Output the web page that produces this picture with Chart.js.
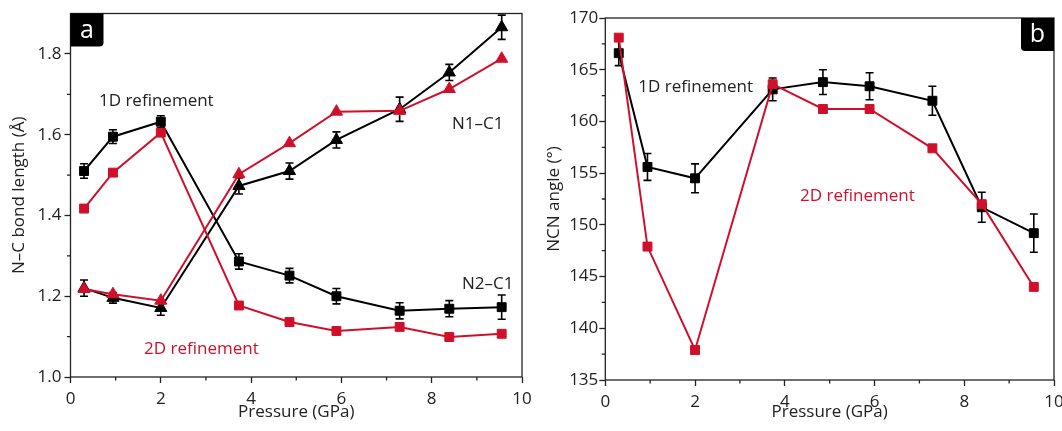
<!DOCTYPE html>
<html>
<head>
<meta charset="utf-8">
<script src="https://cdn.jsdelivr.net/npm/chart.js@4.4.1/dist/chart.umd.min.js"></script>
<style>
  html, body { margin: 0; padding: 0; background: #fff; overflow: hidden; }
  body { width: 1062px; height: 431px; position: relative; }
  .panel { position: absolute; top: 0; height: 431px; }
  #panelA { left: 0; width: 540px; }
  #panelB { left: 530px; width: 545px; }
</style>
</head>
<body>
<div class="panel" id="panelA"><canvas id="chartA"></canvas></div>
<div class="panel" id="panelB"><canvas id="chartB"></canvas></div>
<script>
// pressure points (GPa), shared by both panels
const pressure = [0.3, 0.94, 2.0, 3.73, 4.85, 5.89, 7.29, 8.39, 9.55];

// panel a: N-C bond length (Å)
const bondN2C1_1D = [1.510, 1.595, 1.632, 1.286, 1.251, 1.200, 1.164, 1.169, 1.173];
const bondN2C1_1DErr = [0.018, 0.017, 0.015, 0.019, 0.018, 0.019, 0.020, 0.020, 0.030];
const bondN1C1_1D = [1.220, 1.196, 1.171, 1.473, 1.510, 1.587, 1.663, 1.754, 1.866];
const bondN1C1_1DErr = [0.020, 0.013, 0.018, 0.020, 0.020, 0.020, 0.030, 0.020, 0.030];
const bondN2C1_2D = [1.417, 1.506, 1.605, 1.177, 1.136, 1.114, 1.124, 1.099, 1.107];
const bondN1C1_2D = [1.218, 1.205, 1.189, 1.502, 1.579, 1.657, 1.659, 1.713, 1.788];

// panel b: NCN angle (°)
const angle1D = [166.6, 155.6, 154.5, 163.1, 163.8, 163.4, 162.0, 151.7, 149.2];
const angle1DErr = [1.2, 1.3, 1.4, 1.1, 1.2, 1.3, 1.4, 1.45, 1.85];
const angle2D = [168.1, 147.9, 137.9, 163.6, 161.2, 161.2, 157.4, 152.0, 144.0];

// ticks
const xTicks = [0, 2, 4, 6, 8, 10];
const xMinor = [1, 3, 5, 7, 9];
const bondTicks = [1.0, 1.2, 1.4, 1.6, 1.8];
const bondMinor = [1.1, 1.3, 1.5, 1.7];
const angleTicks = [135, 140, 145, 150, 155, 160, 165, 170];
const angleMinor = [137.5, 142.5, 147.5, 152.5, 157.5, 162.5, 167.5];

// text labels inside the plots, in data coordinates (left, baseline)
const labelsA = [
  { text: '1D refinement', x: 0.63, y: 1.670, color: 'black' },
  { text: 'N1–C1', x: 8.45, y: 1.613, color: 'black' },
  { text: 'N2–C1', x: 8.67, y: 1.217, color: 'black' },
  { text: '2D refinement', x: 1.63, y: 1.057, color: 'red' }
];
const labelsB = [
  { text: '1D refinement', x: 0.735, y: 162.8, color: 'black' },
  { text: '2D refinement', x: 4.34, y: 152.35, color: 'red' }
];

const RED = '#d0102b';
const BLACK = '#000000';
const TEXT = '#222222';
const FONT = "'Open Sans', 'DejaVu Sans', sans-serif";

function toPoints(ys) {
  return ys.map((y, i) => ({ x: pressure[i], y: y }));
}

function series(values, color, shape, errors) {
  return {
    data: toPoints(values),
    errors: errors || null,
    showLine: true,
    borderColor: color,
    backgroundColor: color,
    borderWidth: 2,
    pointStyle: shape,
    pointRadius: shape === 'triangle' ? 7 : 6.3,
    pointBorderWidth: 1,
    pointBorderColor: color,
    pointBackgroundColor: color
  };
}

const errorBars = {
  id: 'errorBars',
  afterDatasetDraw(chart, args) {
    const ds = chart.data.datasets[args.index];
    if (!ds.errors) return;
    const ctx = chart.ctx;
    const y = chart.scales.y;
    ctx.save();
    ctx.strokeStyle = BLACK;
    ctx.lineWidth = 1.6;
    args.meta.data.forEach((pt, i) => {
      const v = ds.data[i].y;
      const top = y.getPixelForValue(v + ds.errors[i]);
      const bot = y.getPixelForValue(v - ds.errors[i]);
      ctx.beginPath();
      ctx.moveTo(pt.x, top); ctx.lineTo(pt.x, bot);
      ctx.moveTo(pt.x - 4, top); ctx.lineTo(pt.x + 4, top);
      ctx.moveTo(pt.x - 4, bot); ctx.lineTo(pt.x + 4, bot);
      ctx.stroke();
    });
    ctx.restore();
  }
};

const frame = {
  id: 'frame',
  afterDraw(chart, args, opts) {
    const { ctx, chartArea: a, scales } = chart;
    ctx.save();
    ctx.strokeStyle = TEXT;
    ctx.lineWidth = 1.3;
    ctx.strokeRect(a.left, a.top, a.right - a.left, a.bottom - a.top);
    // minor ticks
    ctx.beginPath();
    opts.xMinor.forEach(v => {
      const px = scales.x.getPixelForValue(v);
      ctx.moveTo(px, a.bottom); ctx.lineTo(px, a.bottom + 3.5);
    });
    opts.yMinor.forEach(v => {
      const py = scales.y.getPixelForValue(v);
      ctx.moveTo(a.left - 3.5, py); ctx.lineTo(a.left, py);
    });
    ctx.stroke();
    // text labels
    ctx.font = '17px ' + FONT;
    ctx.textBaseline = 'alphabetic';
    ctx.textAlign = 'left';
    opts.labels.forEach(l => {
      ctx.fillStyle = l.color === 'red' ? RED : TEXT;
      ctx.fillText(l.text, scales.x.getPixelForValue(l.x), scales.y.getPixelForValue(l.y));
    });
    // panel letter box
    const w = 33, h = 33, r = 4;
    const bx = opts.corner === 'left' ? a.left : a.right - w;
    ctx.fillStyle = '#000';
    ctx.beginPath();
    if (opts.corner === 'left') ctx.roundRect(bx, a.top, w, h, [0, 0, r, 0]);
    else ctx.roundRect(bx, a.top, w, h, [0, 0, 0, r]);
    ctx.fill();
    ctx.fillStyle = '#fff';
    ctx.font = '25px ' + FONT;
    ctx.textAlign = 'center';
    ctx.fillText(opts.letter, bx + w / 2, a.top + h - 9);
    ctx.restore();
  }
};

function makeChart(id, cfg) {
  return new Chart(document.getElementById(id).getContext('2d'), {
    type: 'scatter',
    data: { datasets: cfg.datasets },
    options: {
      responsive: true,
      maintainAspectRatio: false,
      animation: false,
      layout: { padding: cfg.padding },
      plugins: {
        legend: { display: false },
        tooltip: { enabled: false },
        frame: { xMinor: xMinor, yMinor: cfg.yMinor, labels: cfg.labels, letter: cfg.letter, corner: cfg.corner }
      },
      scales: {
        x: {
          type: 'linear',
          min: 0,
          max: 10,
          afterBuildTicks: (s) => { s.ticks = xTicks.map(v => ({ value: v })); },
          afterFit: (s) => { s.height = cfg.xHeight; },
          border: { display: false },
          grid: { drawOnChartArea: false, drawTicks: true, tickLength: 6, tickColor: TEXT, tickWidth: 1.3 },
          ticks: { color: TEXT, font: { family: FONT, size: 17 }, padding: 6, maxRotation: 0 },
          title: { display: true, text: 'Pressure (GPa)', color: TEXT, font: { family: FONT, size: 17 }, padding: { top: 0, bottom: cfg.xTitlePad } }
        },
        y: {
          type: 'linear',
          min: cfg.yMin,
          max: cfg.yMax,
          afterBuildTicks: (s) => { s.ticks = cfg.yTicks.map(v => ({ value: v })); },
          afterFit: (s) => { s.width = cfg.yWidth; },
          border: { display: false },
          grid: { drawOnChartArea: false, drawTicks: true, tickLength: 6, tickColor: TEXT, tickWidth: 1.3 },
          ticks: { color: TEXT, font: { family: FONT, size: 17 }, padding: cfg.yPad, callback: cfg.yFormat },
          title: { display: true, text: cfg.yTitle, color: TEXT, font: { family: FONT, size: 17 }, padding: { top: cfg.yTitlePad, bottom: 0 } }
        }
      }
    },
    plugins: [errorBars, frame]
  });
}

makeChart('chartA', {
  datasets: [
    series(bondN2C1_2D, RED, 'rect'),
    series(bondN1C1_2D, RED, 'triangle'),
    series(bondN2C1_1D, BLACK, 'rect', bondN2C1_1DErr),
    series(bondN1C1_1D, BLACK, 'triangle', bondN1C1_1DErr)
  ],
  padding: { top: 13.5, right: 18, bottom: 0, left: 0 },
  xHeight: 54,
  xTitlePad: 9,
  yWidth: 70.5,
  yMin: 1.0,
  yMax: 1.9,
  yTicks: bondTicks,
  yMinor: bondMinor,
  yPad: 3,
  yFormat: (v) => Number(v).toFixed(1),
  yTitle: 'N–C bond length (Å)',
  yTitlePad: 9,
  labels: labelsA,
  letter: 'a',
  corner: 'left'
});

makeChart('chartB', {
  datasets: [
    series(angle2D, RED, 'rect'),
    series(angle1D, BLACK, 'rect', angle1DErr)
  ],
  padding: { top: 18, right: 21, bottom: 0, left: 0 },
  xHeight: 51,
  xTitlePad: 9,
  yWidth: 75.3,
  yMin: 135,
  yMax: 170,
  yTicks: angleTicks,
  yMinor: angleMinor,
  yPad: 1,
  yFormat: (v) => String(v),
  yTitle: 'NCN angle (°)',
  yTitlePad: 13.5,
  labels: labelsB,
  letter: 'b',
  corner: 'right'
});
</script>
</body>
</html>
